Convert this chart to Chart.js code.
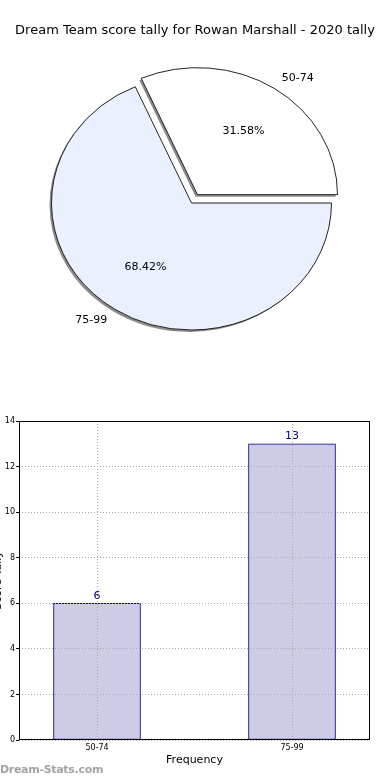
<!DOCTYPE html>
<html>
<head>
<meta charset="utf-8">
<script src="https://cdn.jsdelivr.net/npm/chart.js@4.4.1/dist/chart.umd.min.js"></script>
<style>
  html, body { margin: 0; padding: 0; background: #fff; }
  body { width: 390px; height: 780px; position: relative; overflow: hidden; font-family: "DejaVu Sans", sans-serif; }
  #title { position: absolute; left: 0; top: 22px; width: 390px; text-align: center; font-size: 13px; line-height: 16px; color: #000; white-space: nowrap; }
  #pieWrap { position: absolute; left: 0; top: 0; width: 390px; height: 400px; }
  #barWrap { position: absolute; left: -8px; top: 400px; width: 398px; height: 380px; }
  #mark { position: absolute; left: 0; top: 763px; font-size: 11px; line-height: 14px; color: #a3a3a3; font-weight: bold; letter-spacing: -0.3px; }
</style>
</head>
<body>
<div id="pieWrap"><canvas id="pie" width="390" height="400"></canvas></div>
<div id="title">Dream Team score tally for Rowan Marshall - 2020 tally</div>
<div id="barWrap"><canvas id="bar" width="398" height="380"></canvas></div>
<div id="mark">Dream-Stats.com</div>
<script>
// ---- data ----
const categories = ['50-74', '75-99'];
const tallies = [6, 13];
const yTickValues = [0, 2, 4, 6, 8, 10, 12, 14];
const sliceColors = ['#ffffff', '#ebf0ff'];

// ---- pie ----
const total = tallies.reduce((a, b) => a + b, 0);
const PIE_RADIUS = 140;
const SY = 127 / 140;          // vertical squash (non-equal aspect)
const EXPLODE = [11, 0];       // px explode per slice
const startRotation = 90 - 360 * tallies[0] / total;

function sliceShift(el, i) {
  const mid = (el.startAngle + el.endAngle) / 2;
  return { dx: Math.cos(mid) * EXPLODE[i], dy: Math.sin(mid) * EXPLODE[i], mid };
}

const pieShapePlugin = {
  id: 'pieShape',
  afterUpdate(chart) {
    const meta = chart.getDatasetMeta(0);
    meta.data.forEach((el, i) => {
      if (el._wrapped) return;
      const orig = el.draw.bind(el);
      el.draw = function (ctx, area) {
        const s = sliceShift(el, i);
        ctx.save();
        ctx.translate(s.dx, s.dy);
        const bw = el.options.borderWidth;
        ctx.save();
        ctx.shadowColor = 'rgba(0,0,0,0.45)';
        ctx.shadowOffsetX = -2;
        ctx.shadowOffsetY = 2;
        ctx.shadowBlur = 0;
        el.options.borderWidth = 0;
        orig(ctx, area);
        el.options.borderWidth = bw;
        ctx.restore();
        orig(ctx, area);
        ctx.restore();
      };
      el._wrapped = true;
    });
  },
  beforeDatasetsDraw(chart) {
    const ctx = chart.ctx;
    const el = chart.getDatasetMeta(0).data[0];
    ctx.save();
    ctx.translate(el.x, el.y);
    ctx.scale(1, SY);
    ctx.translate(-el.x, -el.y);
  },
  afterDatasetsDraw(chart) {
    chart.ctx.restore();
  },
  afterDraw(chart) {
    const ctx = chart.ctx;
    const meta = chart.getDatasetMeta(0);
    ctx.save();
    ctx.fillStyle = '#000';
    ctx.font = '11px "DejaVu Sans"';
    ctx.textBaseline = 'middle';
    meta.data.forEach((el, i) => {
      const s = sliceShift(el, i);
      const cx = el.x + s.dx;
      const cy = el.y + s.dy * SY;
      const c = Math.cos(s.mid), sn = Math.sin(s.mid);
      const r = el.outerRadius;
      const pct = (100 * tallies[i] / total).toFixed(2) + '%';
      ctx.textAlign = 'center';
      ctx.fillText(pct, cx + 0.6 * r * c, cy + 0.6 * r * sn * SY);
      ctx.textAlign = c >= 0 ? 'left' : 'right';
      ctx.fillText(categories[i], cx + 1.1 * r * c, cy + 1.1 * r * sn * SY);
    });
    ctx.restore();
  }
};

new Chart(document.getElementById('pie'), {
  type: 'pie',
  data: {
    labels: categories,
    datasets: [{
      data: tallies,
      backgroundColor: sliceColors,
      borderColor: '#000',
      borderWidth: 0.9,
      radius: PIE_RADIUS
    }]
  },
  options: {
    responsive: false,
    animation: false,
    rotation: startRotation,
    layout: { padding: { left: 0, right: 7, top: 6, bottom: 0 } },
    plugins: { legend: { display: false }, tooltip: { enabled: false }, title: { display: false } },
    events: []
  },
  plugins: [pieShapePlugin]
});

// ---- bar ----
const frameAndLabels = {
  id: 'frameLabels',
  afterDraw(chart) {
    const ctx = chart.ctx;
    const a = chart.chartArea;
    ctx.save();
    ctx.strokeStyle = '#000';
    ctx.lineWidth = 1;
    ctx.strokeRect(Math.round(a.left) + 0.5, Math.round(a.top) + 0.5,
                   Math.round(a.right - a.left) - 1, Math.round(a.bottom - a.top) - 1);
    const meta = chart.getDatasetMeta(0);
    ctx.fillStyle = '#000080';
    ctx.font = '11px "DejaVu Sans"';
    ctx.textAlign = 'center';
    ctx.textBaseline = 'bottom';
    meta.data.forEach((bar, i) => {
      ctx.fillText(String(tallies[i]), bar.x, bar.y - 2);
    });
    ctx.restore();
  }
};

const GRID = { color: '#a8a8a8', lineWidth: 1 };

new Chart(document.getElementById('bar'), {
  type: 'bar',
  data: {
    datasets: [{
      data: categories.map((c, i) => ({ x: i, y: tallies[i] })),
      backgroundColor: '#ccccE6',
      borderColor: '#000080',
      borderWidth: 1,
      borderSkipped: false,
      barThickness: 87
    }]
  },
  options: {
    responsive: false,
    animation: false,
    events: [],
    layout: { padding: { left: 0, right: 20, top: 21, bottom: 0 } },
    plugins: { legend: { display: false }, tooltip: { enabled: false } },
    scales: {
      x: {
        type: 'linear',
        min: -0.4,
        max: 1.4,
        offset: false,
        afterBuildTicks(scale) { scale.ticks = categories.map((c, i) => ({ value: i })); },
        afterFit(scale) { scale.height = 40; },
        ticks: {
          callback: (v) => categories[v],
          font: { family: 'DejaVu Sans', size: 8 },
          color: '#000',
          padding: 3,
          maxRotation: 0,
          autoSkip: false
        },
        grid: { z: 1, color: GRID.color, lineWidth: GRID.lineWidth, offset: false, drawTicks: false },
        border: { display: false, dash: [1, 2] },
        title: {
          display: true,
          text: 'Frequency',
          font: { family: 'DejaVu Sans', size: 11 },
          color: '#000',
          padding: { top: 0, bottom: 13 }
        }
      },
      y: {
        min: 0,
        max: 14,
        afterBuildTicks(scale) { scale.ticks = yTickValues.map(v => ({ value: v })); },
        afterFit(scale) { scale.width = 27; },
        ticks: {
          font: { family: 'DejaVu Sans', size: 8 },
          color: '#000',
          padding: 1
        },
        grid: { z: 1, color: GRID.color, lineWidth: GRID.lineWidth, drawTicks: true, tickLength: 3, tickColor: '#000', tickBorderDash: [] },
        border: { display: false, dash: [1, 2] },
        title: {
          display: true,
          text: 'Score Tally',
          font: { family: 'DejaVu Sans', size: 11 },
          color: '#000',
          padding: { top: 0, bottom: 0 }
        }
      }
    }
  },
  plugins: [frameAndLabels]
});
</script>
</body>
</html>
